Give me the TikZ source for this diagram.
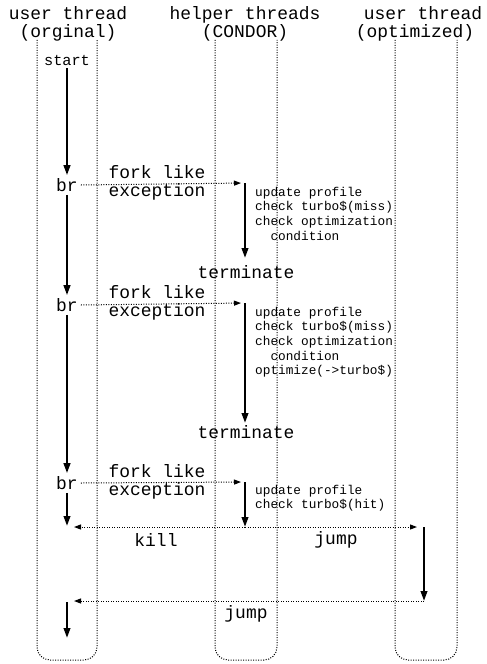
\documentclass[tikz,border=0pt]{standalone}
\usepackage{fontspec}
\setmainfont{Liberation Mono}
\usetikzlibrary{arrows.meta}
\begin{document}
\begin{tikzpicture}[x=1bp,y=-1bp,
  lane/.style={draw, line width=1bp, dash pattern=on 1bp off 1.5bp, rounded corners=13bp},
  flow/.style={draw, line width=2.2bp, -{Triangle[length=10bp,width=6.5bp]}},
  msg/.style={draw, line width=1bp, dash pattern=on 1bp off 1.5bp, -{Triangle[length=7bp,width=5bp]}},
  lbl/.style={font=\fontsize{18}{17.5}\selectfont, inner sep=0pt, align=center},
  brnode/.style={font=\fontsize{18}{17}\selectfont, inner sep=3bp},
  note/.style={font=\fontsize{12.8}{14.6}\selectfont, inner sep=0pt, align=left, anchor=north west}
]
\useasboundingbox (0,0) rectangle (487,664);
% lanes
\draw[lane] (37,40) -- (37,660) -- (97,660) -- (97,40);
\draw[lane] (215,40) -- (215,660) -- (277,660) -- (277,40);
\draw[lane] (395,40) -- (395,660) -- (457,660) -- (457,40);
% headers
\node[lbl] (h1) at (68,24) {user thread\\(orginal)};
\node[lbl] (h2) at (245,24) {helper threads\\(CONDOR)};
\node[lbl] (h3) at (423,24) {user thread\\\hspace*{-16bp}(optimized)};
% left lane
\node[font=\fontsize{15.3}{16}\selectfont, inner sep=3bp] (start) at (67,60) {start};
\node[brnode] (br1) at (67,185) {br};
\node[brnode] (br2) at (67,305) {br};
\node[brnode] (br3) at (67,483) {br};
\coordinate (l4) at (67,526);
\coordinate (l5a) at (67,602);
\coordinate (l5b) at (67,638);
\draw[flow] (start) -- (br1);
\draw[flow] (br1) -- (br2);
\draw[flow] (br2) -- (br3);
\draw[flow] (br3) -- (l4);
\draw[flow] (l5a) -- (l5b);
% helper lane
\coordinate (a1) at (245,183);
\coordinate (b1) at (245,258);
\coordinate (a2) at (245,303);
\coordinate (b2) at (245,423);
\coordinate (a3) at (245,482);
\coordinate (b3) at (245,527);
\draw[flow] (a1) -- (b1);
\draw[flow] (a2) -- (b2);
\draw[flow] (a3) -- (b3);
\draw[msg, shorten >=4bp] (br1.east) -- (a1);
\draw[msg, shorten >=4bp] (br2.east) -- (a2);
\draw[msg, shorten >=4bp] (br3.east) -- (a3);
\node[lbl] (f1) at (157,183) {fork like\\exception};
\node[lbl] (f2) at (157,303) {fork like\\exception};
\node[lbl] (f3) at (157,482) {fork like\\exception};
\node[note] (n1) at (255,187) {update profile\\check turbo\$(miss)\\check optimization\\\phantom{xx}condition};
\node[note] (n2) at (255,307) {update profile\\check turbo\$(miss)\\check optimization\\\phantom{xx}condition\\optimize(->turbo\$)};
\node[note] (n3) at (255,485) {update profile\\check turbo\$(hit)};
\node[lbl] (t1) at (246,272) {terminate};
\node[lbl] (t2) at (246,432) {terminate};
% optimized lane
\coordinate (r1) at (424,527);
\coordinate (r2) at (424,601);
\draw[flow] (r1) -- (r2);
\draw[msg, shorten >=7bp] (b3) -- (l4 |- b3);
\draw[msg, shorten >=7bp] (b3) -- (r1);
\draw[msg, shorten >=7bp] (r2) -- (l5a |- r2);
\node[lbl] (k) at (156,540) {kill};
\node[lbl] (j1) at (336,540) {jump};
\node[lbl] (j2) at (246,614) {jump};
\end{tikzpicture}
\end{document}
